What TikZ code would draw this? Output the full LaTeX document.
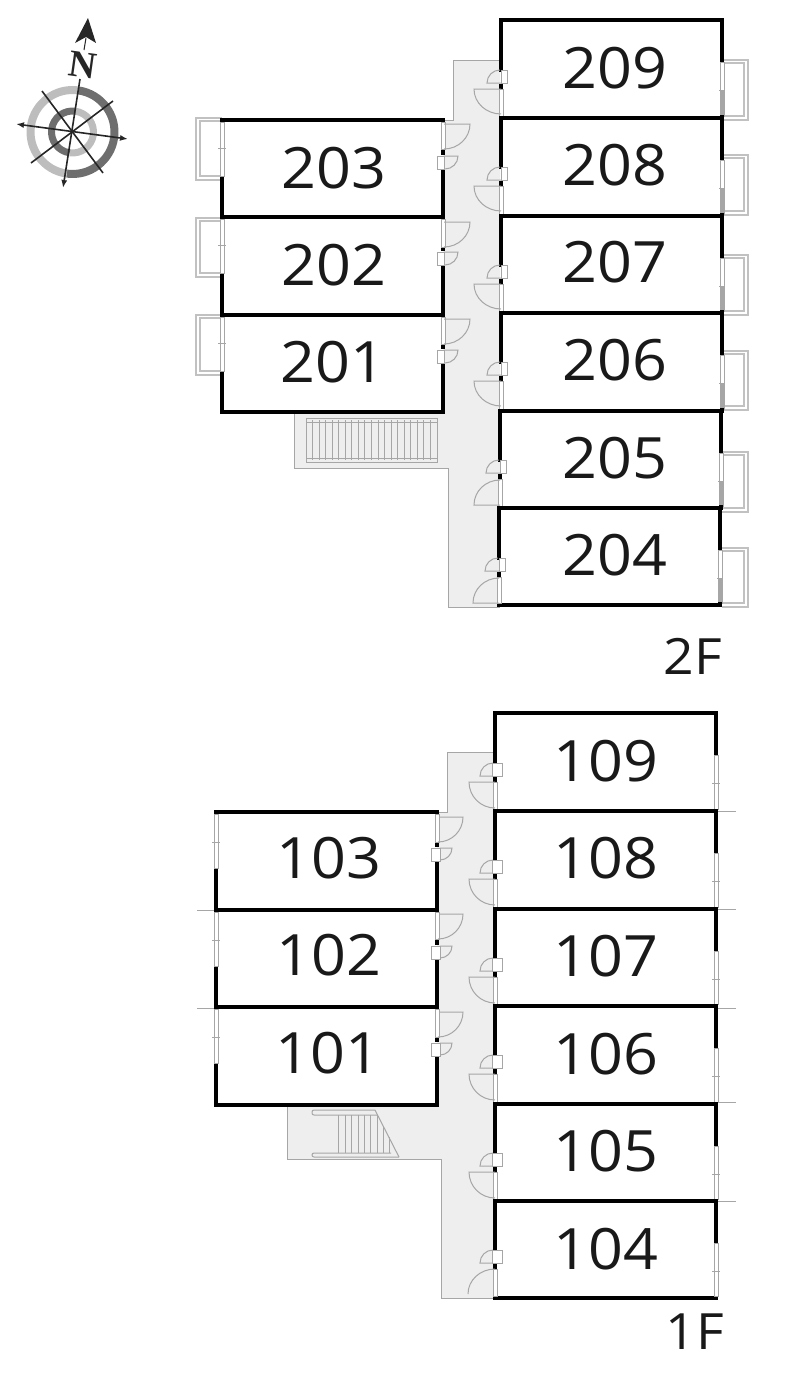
\documentclass[tikz,border=0pt]{standalone}
\usepackage{fontspec}
\usetikzlibrary{arrows.meta}
\setmainfont[FakeStretch=1.07]{Open Sans}
\newfontfamily\compassfont{Liberation Serif}
\definecolor{hallgrey}{HTML}{EEEEEE}
\definecolor{linegrey}{HTML}{A6A6A6}
\definecolor{ringdark}{HTML}{6E6E6E}
\definecolor{ringlight}{HTML}{BDBDBD}
\tikzset{
    wall/.style={line width=4.2pt, line cap=rect},
    thinline/.style={draw=linegrey, line width=1pt},
    balcony/.style={draw=linegrey!70, line width=1.1pt},
    compassline/.style={line width=1.6pt, black!85},
    roomlabel/.style={font=\fontsize{57}{57}\selectfont, inner sep=0pt, text=black!90},
    floorlabel/.style={font=\fontsize{50}{50}\selectfont, inner sep=0pt, text=black!90}
}
\begin{document}
\begin{tikzpicture}[>={Latex[length=8pt,width=6pt]}, x=1pt, y=-1pt]
\useasboundingbox (0,0) rectangle (800,1373);
% corridors
\fill[hallgrey] (453,60)--(500,60)--(500,607)--(448,607)--(448,468)--(294,468)--(294,412)--(443,412)--(443,120)--(453,120)--cycle;
\draw[thinline] (500,60)--(453,60)--(453,120)--(443,120);
\draw[thinline] (294,412)--(294,468)--(448,468)--(448,607)--(500,607);
\fill[hallgrey] (447,752)--(495,752)--(495,1298)--(441,1298)--(441,1159)--(287,1159)--(287,1105)--(437,1105)--(437,812)--(447,812)--cycle;
\draw[thinline] (495,752)--(447,752)--(447,812)--(437,812);
\draw[thinline] (287,1105)--(287,1159)--(441,1159)--(441,1298)--(495,1298);
% stairs
\draw[thinline] (306,418) rectangle (437,422);
\draw[thinline] (306,458) rectangle (437,462);
\foreach \i in {0,...,20}
{
    \draw[thinline] (306+6.55*\i,420)--(306+6.55*\i,460);
}
\draw[thinline, rounded corners=2pt] (375,1110)--(312,1110)--(312,1115)--(377,1115);
\draw[thinline, rounded corners=2pt] (391,1153)--(312,1153)--(312,1157)--(399,1157);
\draw[thinline] (375,1110)--(399,1157);
\foreach \x/\ystart in {338/1115, 345/1115, 351/1115, 358/1115, 364/1115, 370/1115, 377/1115, 383/1126, 389/1137}
{
    \draw[thinline] (\x,\ystart)--(\x,1153);
}
% balconies
\foreach \y/\yy in {60/120, 155/215, 255/315, 351/410, 452/512, 548/607}
{
    \draw[balcony] (722,\y)--(748,\y)--(748,\yy)--(722,\yy);
    \draw[balcony] (722,\y+3)--(744,\y+3)--(744,\yy-4)--(722,\yy-4);
}
\foreach \y/\yy in {118/180, 218/277, 315/375}
{
    \draw[balcony] (222,\y)--(196,\y)--(196,\yy)--(222,\yy);
    \draw[balcony] (222,\y+3)--(200,\y+3)--(200,\yy-4)--(222,\yy-4);
}
% stubs on 1F
\foreach \y in {811, 909, 1008, 1102, 1201}
{
    \draw[thinline] (716,\y)--(736,\y);
}
\foreach \y in {910, 1008}
{
    \draw[thinline] (197,\y)--(216,\y);
}
% rooms 2F right
\foreach \xl/\ytop/\ynext/\ybox in {501/20/118/70, 501/118/216/167, 501/216/313/265, 501/313/411/362, 500/411/508/460, 499/508/605/558}
{
    \draw[wall] (\xl,\ytop)--(\xl+221,\ytop);
    \draw[wall] (\xl,\ynext)--(\xl+221,\ynext);
    \draw[wall] (\xl,\ytop)--(\xl,\ybox);
    \draw[wall] (\xl,\ybox+16)--(\xl,\ybox+17);
    \draw[thinline, fill=white] (\xl-2,\ybox+19) rectangle (\xl+2,\ynext-2);
    \draw[thinline, fill=white] (\xl,\ybox) rectangle (\xl+6,\ybox+13);
    \draw[thinline] (\xl,\ybox+13)--(\xl-14,\ybox+13) arc[start angle=180, end angle=270, radius=13];
    \draw[wall] (\xl+221,\ytop)--(\xl+221,\ytop+42);
    \draw[thinline, fill=white] (\xl+219,\ytop+42) rectangle (\xl+223,\ynext-2);
    \fill[linegrey] (\xl+219,\ytop+71) rectangle (\xl+223,\ynext-2);
    \draw[thinline] (\xl+218,\ytop+70)--(\xl+224,\ytop+70);
    \draw[wall] (\xl+221,\ynext-1)--(\xl+221,\ynext);
}
\foreach \xl/\ybox in {501/70, 501/167, 501/265, 501/362}
{
    \draw[thinline] (\xl,\ybox+19)--(\xl-27,\ybox+19) arc[start angle=180, end angle=90, x radius=27, y radius=25];
}
\foreach \xl/\ybox in {500/460, 499/558}
{
    \draw[thinline] (\xl,\ybox+45)--(\xl-26,\ybox+45) arc[start angle=180, end angle=270, x radius=26, y radius=25];
}
% rooms 2F left
\foreach \ytop/\ynext/\yline/\ybox in {120/217/124/156, 217/315/222/252, 315/412/319/350}
{
    \draw[wall] (222,\ytop)--(443,\ytop);
    \draw[wall] (222,\ynext)--(443,\ynext);
    \draw[wall] (222,\ytop+56)--(222,\ynext);
    \draw[thinline, fill=white] (220,\ytop+2) rectangle (224,\ytop+56);
    \draw[thinline] (218,\ytop+28)--(226,\ytop+28);
    \draw[wall] (443,\ybox+13)--(443,\ynext);
    \draw[wall] (443,\ybox-4)--(443,\ybox-3);
    \draw[thinline, fill=white] (441,\ytop+2) rectangle (445,\yline+25);
    \draw[thinline, fill=white] (437,\ybox) rectangle (444,\ybox+13);
    \draw[thinline] (444,\yline)--(470,\yline) arc[start angle=0, end angle=90, x radius=26, y radius=25];
    \draw[thinline] (444,\ybox)--(458,\ybox) arc[start angle=0, end angle=90, radius=13];
}
% rooms 1F right
\foreach \ytop/\ynext/\ybox in {713/811/763, 811/909/860, 909/1006/958, 1006/1104/1055, 1104/1201/1153, 1201/1298/1250}
{
    \draw[wall] (495,\ytop)--(716,\ytop);
    \draw[wall] (495,\ynext)--(716,\ynext);
    \draw[wall] (495,\ytop)--(495,\ybox);
    \draw[wall] (495,\ybox+16)--(495,\ybox+17);
    \draw[thinline, fill=white] (493,\ybox+19) rectangle (497,\ynext-2);
    \draw[thinline, fill=white] (492,\ybox) rectangle (502,\ybox+13);
    \draw[thinline] (492,\ybox+13)--(480,\ybox+13) arc[start angle=180, end angle=270, radius=13];
    \draw[wall] (716,\ytop)--(716,\ytop+42);
    \draw[thinline, fill=white] (714,\ytop+42) rectangle (718,\ynext-2);
    \draw[thinline] (712,\ytop+70)--(720,\ytop+70);
}
\foreach \ybox in {763, 860, 958, 1055, 1153}
{
    \draw[thinline] (495,\ybox+19)--(469,\ybox+19) arc[start angle=180, end angle=90, x radius=26, y radius=26];
}
\draw[thinline] (468,1294) arc[start angle=180, end angle=270, x radius=27, y radius=25];
% rooms 1F left
\foreach \ytop/\ynext/\yline/\ybox in {812/910/817/848, 910/1007/914/946, 1007/1105/1012/1043}
{
    \draw[wall] (216,\ytop)--(437,\ytop);
    \draw[wall] (216,\ynext)--(437,\ynext);
    \draw[wall] (216,\ytop+56)--(216,\ynext);
    \draw[thinline, fill=white] (214,\ytop+2) rectangle (218,\ytop+56);
    \draw[thinline] (212,\ytop+30)--(220,\ytop+30);
    \draw[wall] (437,\ybox+13)--(437,\ynext);
    \draw[wall] (437,\ybox-4)--(437,\ybox-3);
    \draw[thinline, fill=white] (435,\ytop+2) rectangle (439,\yline+25);
    \draw[thinline, fill=white] (431,\ybox) rectangle (440,\ybox+13);
    \draw[thinline] (440,\yline)--(463,\yline) arc[start angle=0, end angle=90, x radius=25, y radius=25];
    \draw[thinline] (440,\ybox)--(452,\ybox) arc[start angle=0, end angle=90, radius=12];
}
% labels
\foreach \name/\y in {209/68, 208/165, 207/262, 206/360, 205/458, 204/555}
{
    \node[roomlabel] (r\name) at (615,\y) {\name};
}
\foreach \name/\x/\y in {203/334/168, 202/334/265, 201/333/362}
{
    \node[roomlabel] (r\name) at (\x,\y) {\name};
}
\foreach \name/\y in {109/761, 108/858, 107/956, 106/1054, 105/1151, 104/1249}
{
    \node[roomlabel] (r\name) at (606,\y) {\name};
}
\foreach \name/\x/\y in {103/329/858, 102/329/955, 101/328/1053}
{
    \node[roomlabel] (r\name) at (\x,\y) {\name};
}
\node[floorlabel] (second) at (693,656) {2F};
\node[floorlabel] (first) at (695,1332) {1F};
% compass
\coordinate (hub) at (72.5,132);
\draw[ringdark, line width=8pt] (hub)++(-82:42) arc[start angle=-82, end angle=98, radius=42];
\draw[ringlight, line width=8pt] (hub)++(98:42) arc[start angle=98, end angle=278, radius=42];
\draw[ringlight, line width=7pt] (hub)++(-82:21) arc[start angle=-82, end angle=98, radius=21];
\draw[ringdark, line width=7pt] (hub)++(98:21) arc[start angle=98, end angle=278, radius=21];
\draw[->, compassline] (80,79)--(63,188);
\draw[<->, compassline] (16,124)--(128,139);
\draw[compassline] (42,91)--(103,173);
\draw[compassline] (31,163)--(113,101);
\fill[black!85] (88,18)--(96,43)--(86,37)--(75,43)--cycle;
\draw[line width=1pt, black!85] (84,50)--(86,38);
\node[font=\compassfont\bfseries\fontsize{38}{38}\selectfont, inner sep=0pt, rotate=-8, text=black!85] (north) at (83,65) {N};
\end{tikzpicture}
\end{document}
